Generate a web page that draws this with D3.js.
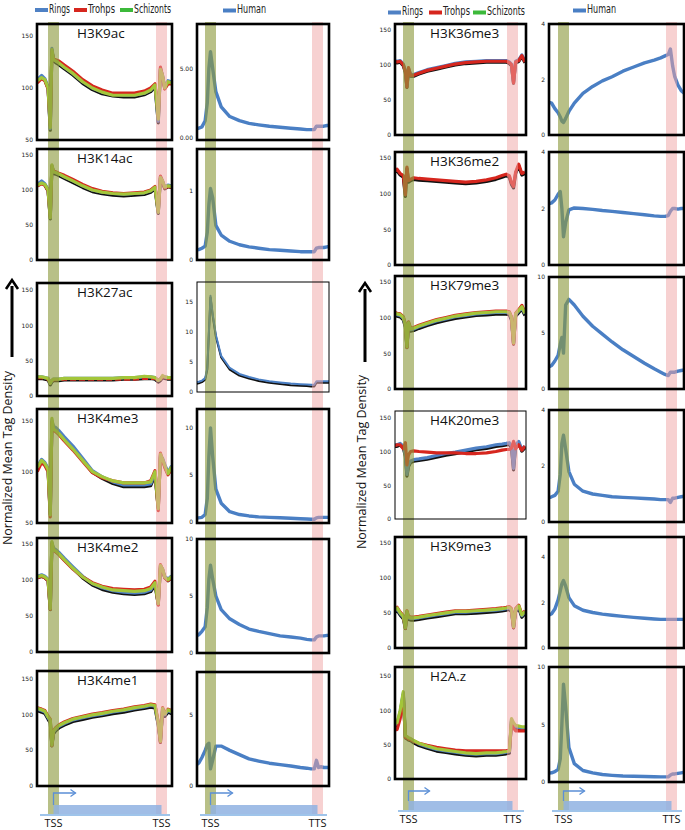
<!DOCTYPE html>
<html><head><meta charset="utf-8">
<script src="https://cdn.jsdelivr.net/npm/d3@7"></script>
<style>body{margin:0;background:#fff}svg{display:block}</style>
</head><body><svg id="c" width="685" height="830"></svg>
<script>
// profile positions (TSS = 0, TTS = 100)
const positions = [-15,-11,-8,-5,-3,-1.5,0,2,5,10,18,27,36,45,55,65,75,84,90,94,97,99,101,103,106,109,112];
const seriesNames = ["Rings","Trohps","Schizonts"];

// ---- parasite series ----
const H3K9ac_rings  = [108,112,109,101,61,138,128,126,124,120,114,106,100,96,94,93,93,95,98,103,68,119,112,101,107,106,105];
const H3K9ac_trohps = [105,109,107,99,64,135,128,127,126,122,116,108,102,98,95,95,95,97,100,104,72,120,111,99,104,104,103];
const H3K9ac_schiz  = [107,110,108,100,62,137,127,126,124,120,114,106,100,96,93,93,93,95,98,103,70,118,112,100,106,105,104];

const H3K14ac_rings  = [108,113,109,101,61,135,126,125,123,119,113,106,100,97,95,94,95,96,99,104,69,119,113,104,107,106,105];
const H3K14ac_trohps = [106,109,107,99,62,134,127,126,124,121,115,108,102,98,96,95,96,97,100,105,70,120,112,103,105,104,104];
const H3K14ac_schiz  = [107,110,108,100,60,136,126,125,123,119,113,106,100,97,95,94,95,96,99,104,68,118,113,104,106,105,104];

const H3K27ac_rings  = [27,27,26,25,18,22,24,24,24,25,25,25,25,25,25,26,26,27,27,26,22,24,28,27,26,26,27];
const H3K27ac_trohps = [26,26,25,24,19,21,23,23,23,24,24,24,24,24,24,24,24,25,25,25,22,24,27,26,25,25,26];
const H3K27ac_schiz  = [27,27,26,25,18,22,24,24,24,25,25,25,25,25,25,26,26,28,27,26,22,24,29,27,26,26,27];

const H3K4me3_rings  = [105,112,109,103,60,150,144,143,140,134,125,113,101,95,90,87,87,87,88,98,66,116,113,107,99,105,105];
const H3K4me3_trohps = [100,109,106,100,56,148,140,139,136,130,121,110,99,94,91,89,89,89,91,101,62,118,111,104,97,102,102];
const H3K4me3_schiz  = [104,111,108,102,58,152,141,140,137,131,122,111,100,95,91,89,89,89,90,100,64,117,112,106,98,104,104];

const H3K4me2_rings  = [105,107,105,101,61,152,144,142,138,130,118,105,95,89,85,83,82,83,86,95,68,119,115,105,101,105,105];
const H3K4me2_trohps = [103,105,103,99,59,150,141,139,135,127,115,104,96,91,88,87,86,87,90,98,65,121,114,103,99,103,103];
const H3K4me2_schiz  = [104,106,104,100,60,153,142,140,136,128,116,104,95,90,86,85,84,85,88,96,67,120,115,104,100,104,104];

const H3K4me1_rings  = [107,105,103,95,90,58,75,79,83,87,92,95,98,100,103,105,108,110,112,111,87,63,107,99,105,103,104];
const H3K4me1_trohps = [109,107,105,97,93,56,77,81,85,89,94,97,100,102,105,107,110,112,114,113,89,61,109,101,107,105,106];
const H3K4me1_schiz  = [108,106,104,96,92,57,76,80,84,88,93,96,99,101,104,106,109,111,113,112,88,62,108,100,106,104,105];

const H3K36me3_rings  = [106,105,106,101,91,70,95,86,86,89,93,96,99,102,104,105,106,106,106,106,104,101,76,105,107,114,105];
const H3K36me3_trohps = [105,104,105,100,90,68,96,85,85,88,92,95,98,101,103,104,105,105,105,105,103,100,74,104,106,113,104];

const H3K36me2_trohps = [130,134,128,125,98,137,118,120,122,121,120,119,118,117,116,117,119,122,125,127,125,115,110,130,141,128,130];

const H3K79me3_rings  = [106,104,103,99,89,60,92,83,84,87,91,95,98,101,103,105,106,107,107,107,106,99,65,104,109,114,105];
const H3K79me3_trohps = [108,106,105,101,91,58,94,85,86,89,93,97,100,103,105,107,108,109,109,109,108,101,63,106,111,117,107];
const H3K79me3_schiz  = [107,105,104,100,90,59,93,84,85,88,92,96,99,102,104,106,107,108,108,108,107,100,64,105,110,115,106];

const H4K20me3_rings  = [110,110,112,108,95,66,80,86,88,89,91,94,97,99,102,105,107,110,111,112,113,108,75,110,115,103,108];
const H4K20me3_trohps = [107,110,110,104,113,80,95,100,101,100,99,98,98,98,97,97,98,100,102,103,103,105,115,104,110,102,108];

const H3K9me3_rings  = [50,56,49,44,30,51,43,42,42,43,45,47,49,51,51,52,53,54,55,56,57,54,31,54,59,46,51];
const H3K9me3_trohps = [52,58,51,46,28,53,45,44,44,45,47,49,51,53,53,54,55,56,57,58,59,56,29,56,61,48,53];
const H3K9me3_schiz  = [51,57,50,45,29,52,44,43,43,44,46,48,50,52,52,53,54,55,56,57,58,55,30,55,60,47,52];

const H2Az_rings  = [78,80,98,125,62,61,59,58,55,51,47,43,41,39,37,36,37,37,38,39,40,86,80,76,75,74,74];
const H2Az_trohps = [72,72,88,118,60,60,58,57,55,52,49,46,44,42,41,41,41,41,41,41,42,80,74,70,70,70,70];
const H2Az_schiz  = [80,82,100,127,63,62,60,59,56,52,48,44,42,40,38,37,38,38,39,40,41,88,82,78,77,76,76];

// ---- human series ----
const H3K9ac_human   = [0.6,0.65,0.75,1.2,2.5,5.0,6.2,5.0,3.3,2.2,1.5,1.2,1.0,0.9,0.8,0.72,0.65,0.6,0.55,0.55,0.55,0.8,0.8,0.8,0.8,0.85,0.85];
const H3K14ac_human  = [0.14,0.15,0.17,0.2,0.4,0.8,1.03,0.9,0.5,0.36,0.27,0.22,0.19,0.17,0.15,0.14,0.13,0.12,0.12,0.12,0.12,0.17,0.18,0.18,0.18,0.19,0.19];
const H3K27ac_human  = [1.6,1.7,1.9,2.3,4,10,16,13,9.5,6,4,3,2.5,2.1,1.8,1.6,1.4,1.3,1.25,1.2,1.2,1.8,1.8,1.8,1.8,1.8,1.8];
const H3K4me3_human  = [0.4,0.45,0.5,0.8,2.5,7,10,7,3.5,2,1.1,0.8,0.65,0.55,0.5,0.45,0.4,0.35,0.33,0.3,0.3,0.45,0.5,0.5,0.5,0.5,0.5];
const H3K4me2_human  = [1.4,1.6,1.9,2.3,4,6.5,7.7,6.5,5,3.8,3,2.5,2.1,1.9,1.7,1.5,1.4,1.3,1.2,1.15,1.15,1.4,1.5,1.5,1.5,1.55,1.55];
const H3K4me1_human  = [1.4,1.6,2.0,2.5,2.9,3.0,1.2,1.8,2.8,2.8,2.5,2.2,1.9,1.75,1.6,1.5,1.4,1.3,1.25,1.2,1.2,1.8,1.3,1.35,1.3,1.3,1.3];
const H3K36me3_human = [1.2,1.15,0.95,0.8,0.65,0.5,0.45,0.6,0.85,1.15,1.5,1.75,1.95,2.1,2.3,2.45,2.6,2.7,2.78,2.85,2.9,3.1,2.5,2.1,1.8,1.6,1.5];
const H3K36me2_human = [2.15,2.2,2.3,2.5,2.6,2.0,1.0,1.5,1.95,2.02,2.0,1.97,1.93,1.9,1.86,1.82,1.78,1.74,1.72,1.72,1.75,1.9,2.0,2.0,1.98,2.0,2.0];
const H3K79me3_human = [1.9,2.1,2.5,3.0,4.0,4.6,3.2,7.5,8.0,7.5,6.5,5.6,4.9,4.2,3.5,2.9,2.3,1.8,1.5,1.3,1.2,1.5,1.5,1.5,1.6,1.65,1.7];
const H4K20me3_human = [0.85,0.9,0.95,1.1,1.7,2.8,3.1,2.6,1.8,1.35,1.1,1.0,0.95,0.9,0.88,0.86,0.84,0.82,0.8,0.8,0.8,0.7,0.85,0.85,0.88,0.9,0.92];
const H3K9me3_human  = [1.4,1.5,1.7,2.1,2.5,2.8,2.95,2.7,2.2,1.85,1.65,1.55,1.48,1.43,1.38,1.34,1.3,1.27,1.25,1.25,1.25,1.25,1.25,1.25,1.25,1.25,1.25];
const H2Az_human     = [0.75,0.8,0.9,1.1,2.0,5.0,8.5,6.5,3.0,1.6,1.0,0.8,0.65,0.58,0.52,0.5,0.48,0.46,0.45,0.45,0.45,0.6,0.7,0.7,0.75,0.8,0.85];

// ---- axis ticks ----
const parasiteTicks50 = [50,100,150];
const parasiteTicks0 = [0,50,100,150];

const panels = [
 {col:0,row:0,title:"H3K9ac", s:[H3K9ac_rings,H3K9ac_trohps,H3K9ac_schiz], pDom:[50,161.5], pTicks:parasiteTicks50, h:H3K9ac_human, hDom:[-0.2,8.2], hTicks:[0,5], hFmt:".2f"},
 {col:0,row:1,title:"H3K14ac",s:[H3K14ac_rings,H3K14ac_trohps,H3K14ac_schiz], pDom:[0,158.6], pTicks:parasiteTicks0, h:H3K14ac_human, hDom:[0,1.6], hTicks:[0,1]},
 {col:0,row:2,title:"H3K27ac",s:[H3K27ac_rings,H3K27ac_trohps,H3K27ac_schiz], pDom:[0,160], pTicks:parasiteTicks0, h:H3K27ac_human, hDom:[0,18.3], hTicks:[0,5,10,15], hThin:true, dashTrohps:true},
 {col:0,row:3,title:"H3K4me3",s:[H3K4me3_rings,H3K4me3_trohps,H3K4me3_schiz], pDom:[50,161], pTicks:parasiteTicks50, h:H3K4me3_human, hDom:[-0.1,12], hTicks:[0,5,10]},
 {col:0,row:4,title:"H3K4me2",s:[H3K4me2_rings,H3K4me2_trohps,H3K4me2_schiz], pDom:[0,158], pTicks:parasiteTicks0, h:H3K4me2_human, hDom:[0,10], hTicks:[0,5,10]},
 {col:0,row:5,title:"H3K4me1",s:[H3K4me1_rings,H3K4me1_trohps,H3K4me1_schiz], pDom:[0,160], pTicks:parasiteTicks0, h:H3K4me1_human, hDom:[0,8], hTicks:[0,5]},
 {col:1,row:0,title:"H3K36me3",s:[H3K36me3_rings,H3K36me3_trohps,null], pDom:[0,158], pTicks:parasiteTicks0, h:H3K36me3_human, hDom:[0,4], hTicks:[0,2,4]},
 {col:1,row:1,title:"H3K36me2",s:[null,H3K36me2_trohps,null], pDom:[0,158], pTicks:parasiteTicks0, h:H3K36me2_human, hDom:[0,4], hTicks:[0,2,4]},
 {col:1,row:2,title:"H3K79me3",s:[H3K79me3_rings,H3K79me3_trohps,H3K79me3_schiz], pDom:[0,158], pTicks:parasiteTicks0, h:H3K79me3_human, hDom:[0,10], hTicks:[0,5,10]},
 {col:1,row:3,title:"H4K20me3",s:[H4K20me3_rings,H4K20me3_trohps,null], pDom:[0,160], pTicks:parasiteTicks0, h:H4K20me3_human, hDom:[0,4], hTicks:[0,2,4], pThin:true},
 {col:1,row:4,title:"H3K9me3",s:[H3K9me3_rings,H3K9me3_trohps,H3K9me3_schiz], pDom:[0,158], pTicks:parasiteTicks0, h:H3K9me3_human, hDom:[0,4.85], hTicks:[0,2,4]},
 {col:1,row:5,title:"H2A.z",s:[H2Az_rings,H2Az_trohps,H2Az_schiz], pDom:[0,163], pTicks:parasiteTicks0, h:H2Az_human, hDom:[0,10], hTicks:[0,5,10]}
];

// ---- layout ----
const cols = [
 {px:[37,172], pT:[53.5,161.5], hx:[197,329], hT:[210.5,317.5], titleX:77, bandTop:22, geneY:815, arrowUp:12, arrowLen:22, labY:827, ttsLabelP:"TSS",
  rows:[{p:[24,140],h:[24,140]},{p:[149,260],h:[149,260]},{p:[283,396],h:[282,392]},{p:[409,523],h:[409,523]},{p:[538,652],h:[539,653]},{p:[671,786],h:[672,786]}]},
 {px:[395,526], pT:[408.5,512.5], hx:[549,684], hT:[563.5,671.5], titleX:430, bandTop:22, geneY:811, arrowUp:10, arrowLen:21, labY:823, ttsLabelP:"TTS",
  rows:[{p:[24,135],h:[24,135]},{p:[152,265],h:[152,265]},{p:[276,389],h:[277,389]},{p:[411,519],h:[410,522]},{p:[537,648],h:[537,648]},{p:[667,779],h:[667,782]}]}
];
const colors = {Rings:"#4f81c4", Trohps:"#d6261e", Schizonts:"#a3c63a", Human:"#4a7fc4"};
const legendColors = {Rings:"#4f81c4", Trohps:"#d6261e", Schizonts:"#3cb93a", Human:"#4a7fc4"};

const svg = d3.select("#c");
const defs = svg.append("defs");
const gLines = svg.append("g");
const gBands = svg.append("g");
const gFrames = svg.append("g");
const gText = svg.append("g");
let clipId = 0;

function drawPanel(xr, tss, yr, dom, seriesList, opts){
  const x = d3.scaleLinear().domain([0,100]).range(tss);
  const y = d3.scaleLinear().domain(dom).range([yr[1], yr[0]]);
  const id = "clip"+(clipId++);
  defs.append("clipPath").attr("id",id).append("rect")
    .attr("x",xr[0]).attr("y",yr[0]).attr("width",xr[1]-xr[0]).attr("height",yr[1]-yr[0]);
  const g = gLines.append("g").attr("clip-path",`url(#${id})`);
  const line = d3.line().x((d,i)=>x(positions[i])).y(d=>y(d)).curve(d3.curveLinear);
  if(opts.shadow){
    const base = seriesList.find(s=>s && s.values);
    g.append("path").attr("d",line(base.values)).attr("transform","translate(0,1.6)")
      .attr("fill","none").attr("stroke","#111").attr("stroke-width",opts.sw)
      .attr("stroke-linejoin","round");
  }
  seriesList.forEach(s=>{
    if(!s || !s.values) return;
    g.append("path").attr("d",line(s.values)).attr("fill","none")
      .attr("stroke",s.color).attr("stroke-width",opts.sw)
      .attr("stroke-dasharray",s.dash||null)
      .attr("stroke-linejoin","round");
  });
  gFrames.append("rect").attr("x",xr[0]).attr("y",yr[0]).attr("width",xr[1]-xr[0]).attr("height",yr[1]-yr[0])
    .attr("fill","none").attr("stroke","#000").attr("stroke-width",opts.thin?1:2.6);
  const ax = d3.axisLeft(y).tickValues(opts.ticks).tickSize(0).tickPadding(4)
    .tickFormat(opts.fmt? d3.format(opts.fmt) : d3.format("d"));
  const ag = gText.append("g").attr("transform",`translate(${xr[0]},0)`).call(ax);
  ag.select(".domain").remove();
  ag.selectAll("text").attr("font-size","6px").attr("fill","#222").attr("font-family","DejaVu Sans, sans-serif");
  return x;
}

panels.forEach(p=>{
  const c = cols[p.col], r = c.rows[p.row];
  const ser = p.s.map((v,i)=>({values:v, color:colors[seriesNames[i]], dash:(i===1&&p.dashTrohps)?"6,3":null}));
  drawPanel(c.px, c.pT, r.p, p.pDom, ser, {sw:3.2, shadow:true, thin:p.pThin, ticks:p.pTicks});
  drawPanel(c.hx, c.hT, r.h, p.hDom, [{values:p.h, color:colors.Human}],
    {sw:p.hThin?2:3.4, shadow:!!p.hThin, thin:p.hThin, ticks:p.hTicks, fmt:p.hFmt});
  gText.append("text").attr("x",c.titleX).attr("y",r.p[0]+14).text(p.title)
    .attr("font-family","Open Sans, sans-serif").attr("font-size","13.5px").attr("fill","#111");
});

// bands + gene diagrams
cols.forEach(c=>{
  [[c.px,c.pT,"TSS",c.ttsLabelP],[c.hx,c.hT,"TSS","TTS"]].forEach(([xr,tss,l1,l2])=>{
    const x = d3.scaleLinear().domain([0,100]).range(tss);
    gBands.append("rect").attr("x",x(0)-5.5).attr("y",c.bandTop).attr("width",11).attr("height",c.geneY-c.bandTop)
      .attr("fill","#8d9a3e").attr("opacity",0.62);
    gBands.append("rect").attr("x",x(100)-5.5).attr("y",c.bandTop).attr("width",11).attr("height",c.geneY-c.bandTop)
      .attr("fill","#f0a4a4").attr("opacity",0.5);
    const gy = c.geneY;
    gText.append("rect").attr("x",x(0)).attr("y",gy-10).attr("width",x(100)-x(0)).attr("height",10)
      .attr("fill","#8fb2e2").attr("opacity",0.85);
    gText.append("line").attr("x1",xr[0]+3).attr("x2",xr[1]-2).attr("y1",gy).attr("y2",gy)
      .attr("stroke","#9fc4ea").attr("stroke-width",2);
    const ax0 = x(0), ay = gy-10-c.arrowUp;
    gText.append("path").attr("d",`M${ax0},${gy-10}V${ay}H${ax0+c.arrowLen}`)
      .attr("fill","none").attr("stroke","#5b8fd6").attr("stroke-width",1.3);
    gText.append("path").attr("d",`M${ax0+c.arrowLen-5},${ay-3.5}L${ax0+c.arrowLen},${ay}L${ax0+c.arrowLen-5},${ay+3.5}`)
      .attr("fill","none").attr("stroke","#5b8fd6").attr("stroke-width",1.3);
    gText.append("text").attr("x",x(0)).attr("y",c.labY).attr("text-anchor","middle").text(l1)
      .attr("font-family","Open Sans, sans-serif").attr("font-size","11px").attr("fill","#111");
    gText.append("text").attr("x",x(100)).attr("y",c.labY).attr("text-anchor","middle").text(l2)
      .attr("font-family","Open Sans, sans-serif").attr("font-size","11px").attr("fill","#111");
  });
});

// legends
const legendFont = "Liberation Sans Narrow, DejaVu Sans Condensed, Arial Narrow, sans-serif";
const legends = [
  {y:10, items:[["Rings",35,21],["Trohps",74,27],["Schizonts",120,37]]},
  {y:12.5, items:[["Rings",388,21],["Trohps",429,27],["Schizonts",473,38]]},
  {y:10.5, items:[["Human",223,29]]},
  {y:10.5, items:[["Human",573,29]]}
];
legends.forEach(L=>{
  L.items.forEach(([name,x0,w])=>{
    gText.append("line").attr("x1",x0).attr("x2",x0+13).attr("y1",L.y).attr("y2",L.y)
      .attr("stroke",legendColors[name]).attr("stroke-width",4);
    gText.append("text").attr("x",x0+14).attr("y",L.y+2.5).text(name)
      .attr("textLength",w).attr("lengthAdjust","spacingAndGlyphs")
      .attr("font-family",legendFont).attr("font-size","12.5px").attr("fill","#222");
  });
});

// y labels with arrows
[[8,458,12,357,280],[362,462,365,362,283]].forEach(([tx,ty,axx,ay0,ay1])=>{
  gText.append("text").attr("transform",`translate(${tx+4},${ty}) rotate(-90)`).attr("text-anchor","middle")
    .text("Normalized Mean Tag Density").attr("font-family","Open Sans, sans-serif").attr("font-size","12.5px").attr("fill","#111");
  gText.append("line").attr("x1",axx).attr("x2",axx).attr("y1",ay0).attr("y2",ay1+6)
    .attr("stroke","#000").attr("stroke-width",3);
  gText.append("path").attr("d",`M${axx-6},${ay1+9}L${axx},${ay1}L${axx+6},${ay1+9}`)
    .attr("fill","none").attr("stroke","#000").attr("stroke-width",2.6);
});
</script></body></html>
